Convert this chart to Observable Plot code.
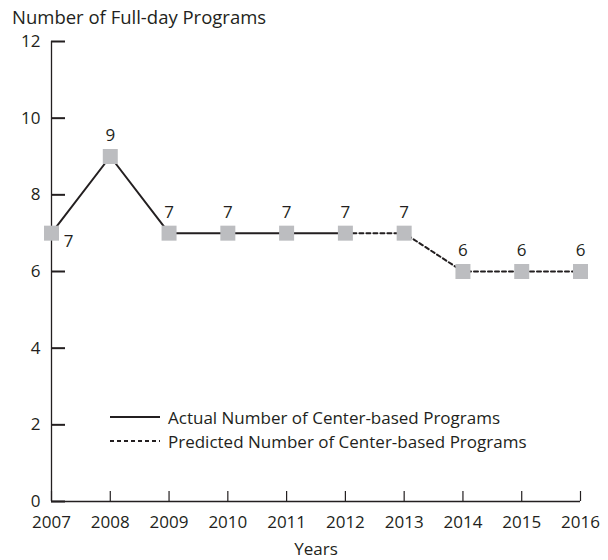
<!DOCTYPE html>
<html><head><meta charset="utf-8">
<script src="https://cdn.jsdelivr.net/npm/d3@7"></script>
<script src="https://cdn.jsdelivr.net/npm/@observablehq/plot@0.6"></script>
<style>
body{margin:0;background:#fff;font-family:"Open Sans",sans-serif;color:#231f20}
#wrap{position:relative;width:608px;height:560px}
#title{height:30px;line-height:26px;padding-left:12px;font-size:18.5px;box-sizing:border-box;padding-top:4px;white-space:nowrap}
#legend{position:absolute;left:110px;top:405px;font-size:17px}
.row{display:flex;align-items:center;height:24px}
.row svg{margin-right:8px}
</style></head><body>
<div id="wrap"><div id="title"></div><div id="chart"></div><div id="legend"></div></div>
<script>
const years = [2007, 2008, 2009, 2010, 2011, 2012, 2013, 2014, 2015, 2016];
const programs = [7, 9, 7, 7, 7, 7, 7, 6, 6, 6];
const lastActualYear = 2012;
const yTicks = [0, 2, 4, 6, 8, 10, 12];
const titleText = "Number of Full-day Programs";
const xTitle = "Years";
const legendLabels = ["Actual Number of Center-based Programs", "Predicted Number of Center-based Programs"];

const ink = "#231f20";
const data = years.map((year, i) => ({year, value: programs[i], i}));
const actual = data.filter(d => d.year <= lastActualYear);
const predicted = data.filter(d => d.year >= lastActualYear);

document.getElementById("title").textContent = titleText;

const chart = Plot.plot({
  width: 608,
  height: 530,
  marginTop: 11,
  marginBottom: 59,
  marginLeft: 51,
  marginRight: 28,
  style: {fontFamily: "Open Sans, sans-serif", fontSize: "17px", color: ink, background: "#fff"},
  x: {domain: [years[0], years[years.length - 1]]},
  y: {domain: [yTicks[0], yTicks[yTicks.length - 1]]},
  marks: [
    Plot.axisX({ticks: years, tickFormat: d => String(d), tickSize: -10, tickPadding: 24, strokeWidth: 1.2,
      label: xTitle, labelAnchor: "center", labelOffset: 53, labelArrow: "none", fontSize: 17}),
    Plot.axisY({ticks: yTicks, tickSize: -14, tickPadding: 25, strokeWidth: 2, label: null, fontSize: 17}),
    Plot.ruleX([years[0]], {stroke: ink, strokeWidth: 1.3}),
    Plot.ruleY([yTicks[0]], {stroke: ink, strokeWidth: 1.3}),
    Plot.line(actual, {x: "year", y: "value", stroke: ink, strokeWidth: 2}),
    Plot.line(predicted, {x: "year", y: "value", stroke: ink, strokeWidth: 2, strokeDasharray: "4,3"}),
    Plot.dot(data, {x: "year", y: "value", symbol: "square", r: 8.46, fill: "#bcbdc0", stroke: "none"}),
    Plot.text(data.filter(d => d.i === 0), {x: "year", y: "value", text: d => String(d.value), dx: 17, dy: 8, fill: ink, fontSize: 17}),
    Plot.text(data.filter(d => d.i > 0), {x: "year", y: "value", text: d => String(d.value), dy: -21, fill: ink, fontSize: 17})
  ]
});
document.getElementById("chart").appendChild(chart);

const legend = document.getElementById("legend");
legendLabels.forEach((label, k) => {
  const row = document.createElement("div");
  row.className = "row";
  row.innerHTML = `<svg width="50" height="4"><line x1="0" x2="50" y1="2" y2="2" stroke="${ink}" stroke-width="2" ${k === 1 ? 'stroke-dasharray="4,3"' : ''}/></svg><span></span>`;
  row.querySelector("span").textContent = label;
  legend.appendChild(row);
});
</script>
</body></html>
